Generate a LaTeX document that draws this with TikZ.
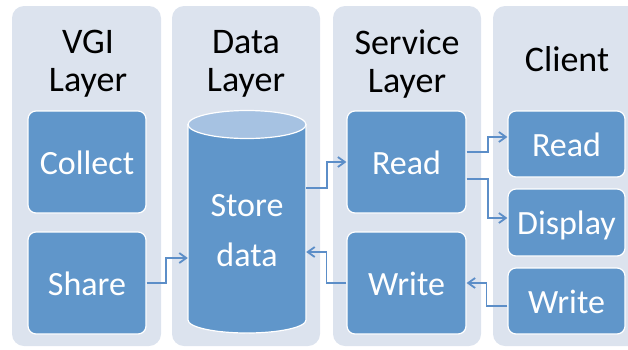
\documentclass[tikz,border=0pt]{standalone}
\usepackage{fontspec}
\setmainfont{Carlito}
\usetikzlibrary{arrows.meta}
\definecolor{panelgrey}{RGB}{220,227,238}
\definecolor{boxblue}{RGB}{96,150,202}
\definecolor{toplight}{RGB}{166,194,226}
\definecolor{linkblue}{RGB}{92,142,200}

\begin{document}
\begin{tikzpicture}[x=1pt,y=-1pt,
  box/.style={rectangle,rounded corners=8pt,draw=white,line width=1.2pt,fill=boxblue,
    text=white,font=\fontsize{34}{38}\selectfont,text height=24pt,text depth=0pt,inner sep=0pt},
  title/.style={align=center,font=\fontsize{36}{38}\selectfont,text=black,inner sep=0pt},
  link/.style={draw=linkblue,line width=1.8pt,-{Straight Barb[length=7pt,width=10pt]}}]
\useasboundingbox (0,0) rectangle (628,349);
\fill[panelgrey,rounded corners=12pt] (12,6) rectangle (161,346);
\fill[panelgrey,rounded corners=12pt] (172,6) rectangle (320,346);
\fill[panelgrey,rounded corners=12pt] (333,6) rectangle (481,346);
\fill[panelgrey,rounded corners=12pt] (493,6) rectangle (660,346);

\node[title] (vgititle) at (88,64) {VGI\\Layer};
\node[title] (datatitle) at (246,64) {Data\\Layer};
\node[title] (servtitle) at (407,64) {Service\\Layer};
\node[title] (clienttitle) at (567,59) {Client};

\node[box,minimum width=118pt,minimum height=102pt] (collect) at (87,162) {Collect};
\node[box,minimum width=118pt,minimum height=102pt] (share) at (87,283) {Share};

\draw[fill=boxblue,draw=white,line width=1.2pt] (188,124.5) -- (188,320)
  arc[start angle=180,end angle=360,x radius=59pt,y radius=13pt] -- (306,124.5) -- cycle;
\draw[fill=toplight,draw=white,line width=1.2pt] (247,124.5) ellipse[x radius=59pt,y radius=14pt];
\node[align=center,text=white,font=\fontsize{34}{50}\selectfont,minimum width=118pt,inner sep=0pt] (store) at (247,231) {Store\\data};

\node[box,minimum width=119pt,minimum height=102pt] (sread) at (406.5,162) {Read};
\node[box,minimum width=119pt,minimum height=102pt] (swrite) at (406.5,283) {Write};

\node[box,minimum width=117pt,minimum height=66pt] (cread) at (566.5,144) {Read};
\node[box,minimum width=117pt,minimum height=67pt] (cdisp) at (566.5,222.5) {Display};
\node[box,minimum width=117pt,minimum height=66pt] (cwrite) at (566.5,301) {Write};

\draw[link] (share.east) -- ++(19,0) |- ([yshift=-27pt]store.west);
\draw[link] ([yshift=43pt]store.east) -- ++(21,0) |- (sread.west);
\draw[link] (swrite.west) -- ++(-20,0) |- ([yshift=-21pt]store.east);
\draw[link] ([yshift=10pt]sread.east) -- ++(21,0) |- ([yshift=7pt]cread.west);
\draw[link] ([yshift=-17pt]sread.east) -- ++(21,0) |- ([yshift=4.5pt]cdisp.west);
\draw[link] ([yshift=-5pt]cwrite.west) -- ++(-21,0) |- (swrite.east);

\end{tikzpicture}
\end{document}
